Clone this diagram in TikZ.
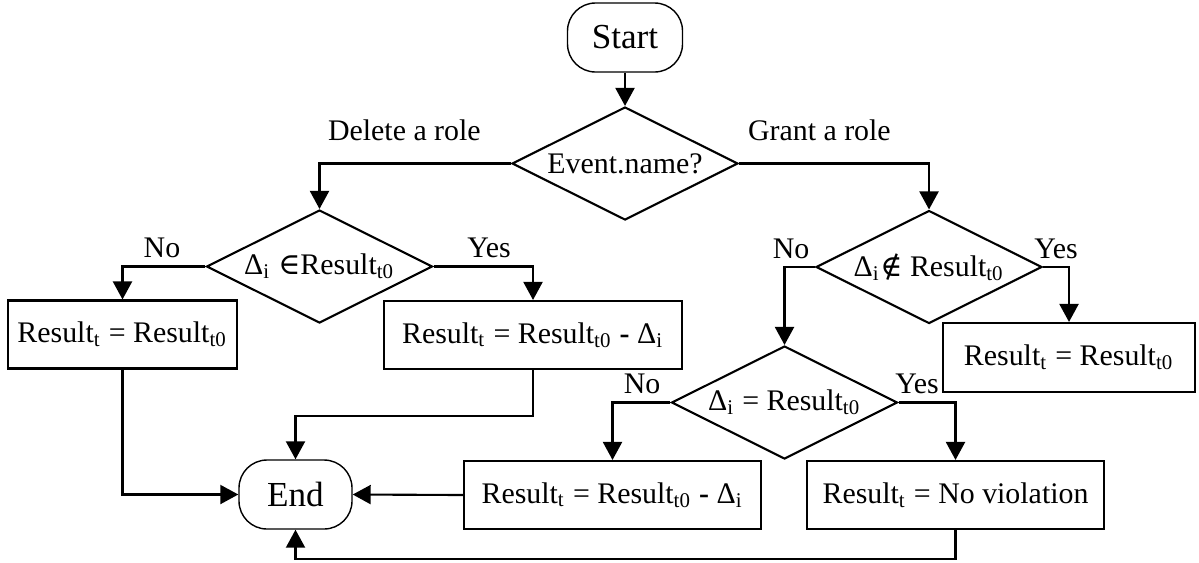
\documentclass[tikz,border=0pt]{standalone}
\usepackage{fontspec}
\setmainfont{Liberation Serif}
\newfontfamily\mathsym{DejaVu Serif}
\usetikzlibrary{shapes.geometric,arrows.meta}

\begin{document}
\begin{tikzpicture}[
	terminal/.style={draw,line width=0.4pt,rounded corners=0.28cm,minimum width=1.15cm,minimum height=0.69cm,inner sep=0pt,font=\fontsize{10}{12}\selectfont},
	decision/.style={draw,diamond,aspect=2,inner sep=0pt,minimum width=2.26cm,minimum height=1.13cm},
	process/.style={draw,rectangle,inner sep=0pt,minimum height=0.68cm},
	flow/.style={-{Triangle[length=0.18cm,width=0.19cm]}},
	lbl/.style={inner sep=0pt,anchor=base},
	line width=0.6pt,
	font=\fontsize{8.5}{10}\selectfont
]

	\useasboundingbox (0,0) rectangle (11.99,5.62);

	% Start and event type
	\node[terminal] (start) at (6.25,5.245) {Start};
	\node[decision] (event) at (6.25,3.985) {Event.name?};

	% Delete a role
	\node[decision] (del) at (3.195,2.955) {Δ\textsubscript{i} {\mathsym ∈}Result\textsubscript{t0}};
	\node[process,minimum width=2.29cm] (res1) at (1.225,2.275) {Result\textsubscript{t} = Result\textsubscript{t0}};
	\node[process,minimum width=2.98cm] (res2) at (5.33,2.27) {Result\textsubscript{t} = Result\textsubscript{t0} \textbf{-} Δ\textsubscript{i}};

	% Grant a role
	\node[decision] (grant) at (9.29,2.95) {Δ\textsubscript{i}{\mathsym ∉} Result\textsubscript{t0}};
	\node[process,minimum width=2.52cm,minimum height=0.69cm] (res3) at (10.69,2.045) {Result\textsubscript{t} = Result\textsubscript{t0}};
	\node[decision] (same) at (7.845,1.595) {Δ\textsubscript{i} = Result\textsubscript{t0}};
	\node[process,minimum width=2.97cm] (res4) at (6.125,0.67) {Result\textsubscript{t} = Result\textsubscript{t0} \textbf{-} Δ\textsubscript{i}};
	\node[process,minimum width=2.97cm] (res5) at (9.555,0.67) {Result\textsubscript{t} = No violation};

	\node[terminal,minimum width=1.13cm] (end) at (2.955,0.675) {End};

	% Branch labels
	\node[lbl,anchor=base west] (delLbl) at (3.27,4.22) {Delete a role};
	\node[lbl,anchor=base west] (grantLbl) at (7.47,4.22) {Grant a role};
	\node[lbl] (delNo) at (1.62,3.05) {No};
	\node[lbl] (delYes) at (4.89,3.05) {Yes};
	\node[lbl] (grantNo) at (7.91,3.04) {No};
	\node[lbl] (grantYes) at (10.56,3.04) {Yes};
	\node[lbl] (sameNo) at (6.42,1.69) {No};
	\node[lbl] (sameYes) at (9.17,1.69) {Yes};

	% Flow arrows
	\draw[flow] (start) -- (event);
	\draw[flow] (event.west) -| (del.north);
	\draw[flow] (event.east) -| (grant.north);
	\draw[flow] (del.west) -| (res1.north);
	\draw[flow] (del.east) -| (res2.north);
	\draw[flow] (grant.west) -| (same.north);
	\draw[flow] (grant.east) -| (res3.north);
	\draw[flow] (same.west) -| (res4.north);
	\draw[flow] (same.east) -| (res5.north);

	% Into End
	\draw[flow] (res1.south) |- (end.west);
	\draw[flow] (res2.south) -- ++(0,-0.46) -| (end.north);
	\draw[flow] (res4.west) -- (end.east);
	\draw[flow] (res5.south) -- ++(0,-0.29) -| (end.south);

\end{tikzpicture}
\end{document}
